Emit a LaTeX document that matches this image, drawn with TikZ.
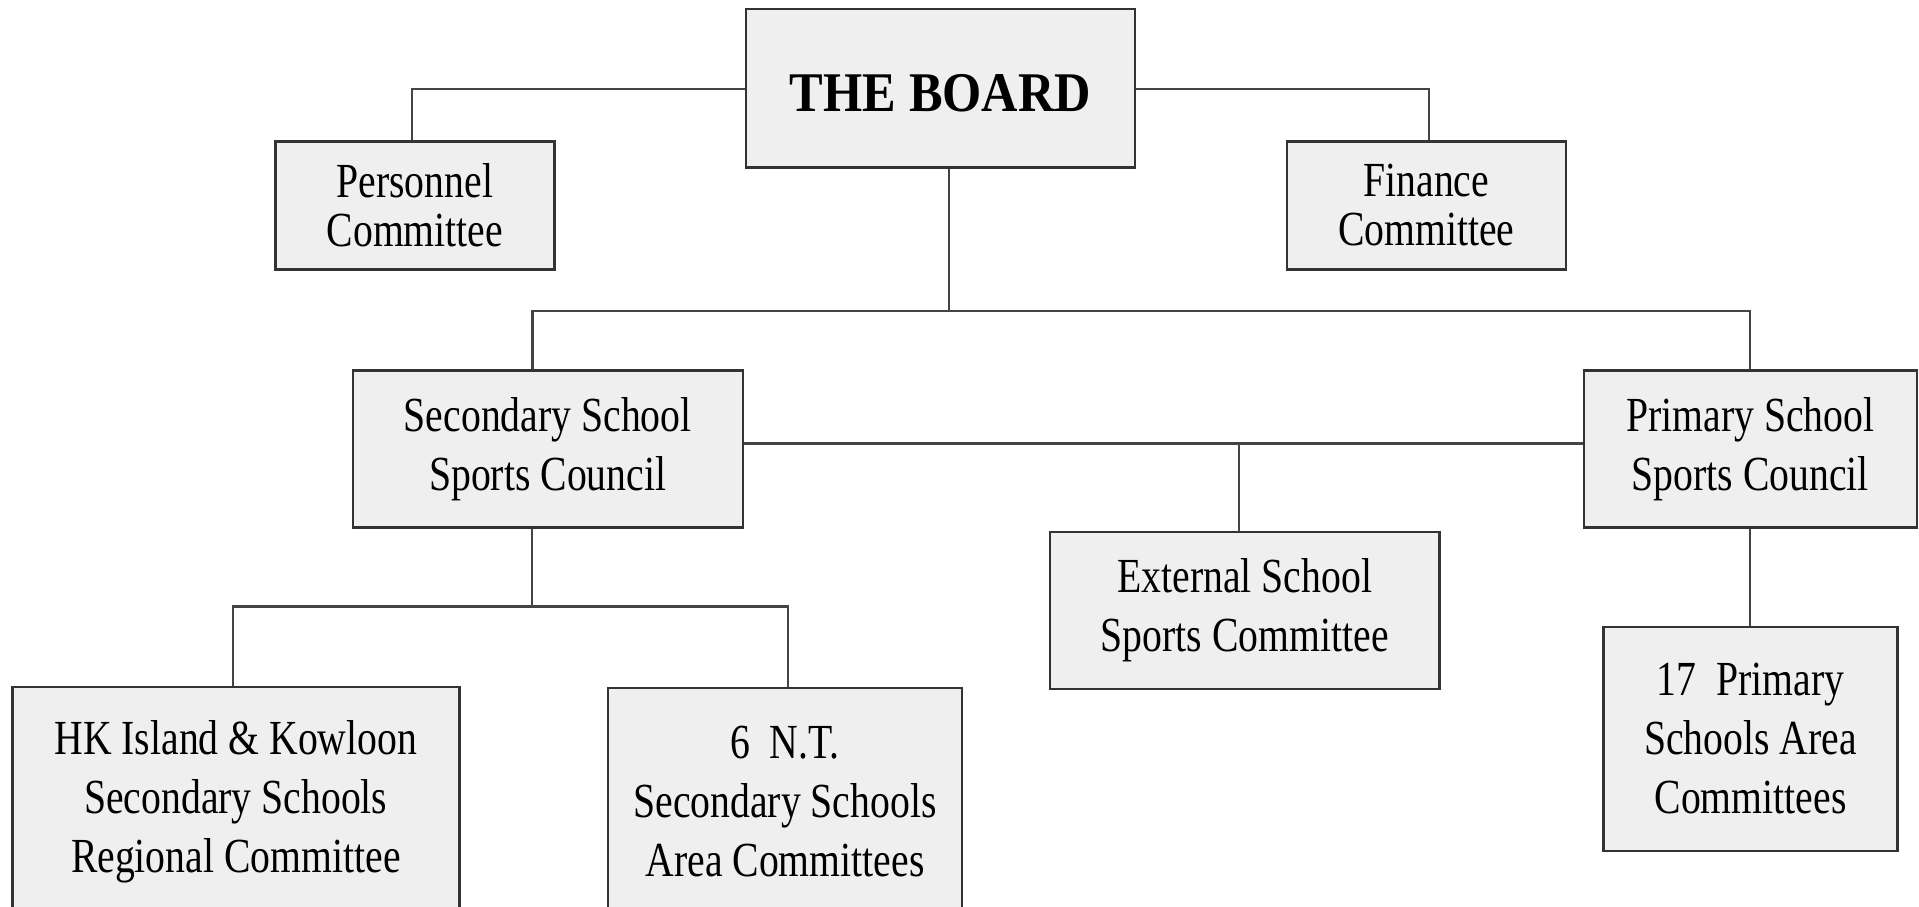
\documentclass[tikz,border=0pt]{standalone}
\usepackage{fontspec}
\setmainfont{Liberation Serif}[FakeStretch=0.81]
\newfontfamily\boardfont{Liberation Serif}[FakeStretch=0.9]
\definecolor{boxfill}{HTML}{EFEFEF}
\definecolor{edge}{HTML}{333333}
\definecolor{wire}{HTML}{444444}
\tikzset{
  orgbox/.style={draw=edge, line width=2.4pt, fill=boxfill, inner sep=0pt, align=center, text=black},
  body/.style={font=\fontsize{49}{59}\selectfont},
  tight/.style={font=\fontsize{49}{49}\selectfont},
  wireline/.style={draw=wire, line width=2.2pt},
  plain/.style={inner sep=0pt, align=center, text=black}
}
\begin{document}
\begin{tikzpicture}[x=1pt,y=-1pt]
\useasboundingbox (0,0) rectangle (1919,907);
\clip (0,0) rectangle (1919,907);
% nodes
\node[orgbox, minimum width=389pt, minimum height=158pt, font=\boardfont\bfseries\fontsize{56}{60}\selectfont] (board) at (940.5,88.3) {\raisebox{-23pt}[0pt][0pt]{THE BOARD}};
\node[orgbox, tight, minimum width=279pt, minimum height=128pt] (pers) at (414.9,205.3) {Personnel\\Committee};
\node[orgbox, tight, minimum width=279pt, minimum height=128pt] (fin) at (1426.3,205.3) {Finance\\Committee};
\node[orgbox, body, minimum width=390pt, minimum height=157pt] (sec) at (547.7,449.1) {Secondary School\\Sports Council};
\node[orgbox, body, minimum width=333pt, minimum height=157pt] (pri) at (1750.4,449.1) {Primary School\\Sports Council};
\node[orgbox, body, minimum width=389.6pt, minimum height=157pt] (ext) at (1244.7,610.3) {External School\\Sports Committee};
\node[orgbox, body, minimum width=294pt, minimum height=224pt] (p17) at (1750.5,739) {17\ \ Primary\\Schools Area\\Committees};
\node[orgbox, minimum width=447pt, minimum height=320pt, anchor=north] (hk) at (235.8,685.8) {};
\node[plain, body] (hktext) at (235.8,802) {HK Island \& Kowloon\\Secondary Schools\\Regional Committee};
\node[orgbox, minimum width=354pt, minimum height=320pt, anchor=north] (nt) at (785,686.5) {};
\node[plain, body] (nttext) at (785,802) {6\ \ N.T.\\Secondary Schools\\Area Committees};
% junctions
\coordinate (jb) at (949.2,311);
\coordinate (busL) at (532.4,311);
\coordinate (busR) at (1750,311);
\coordinate (mid) at (1239,443.5);
\coordinate (js) at (532.1,606.4);
\coordinate (jl) at (232.7,606.4);
\coordinate (jr) at (788,606.4);
% connectors
\draw[wireline] (board.west |- 0,89.3) -| (pers.north -| 412.1,0);
\draw[wireline] (board.east |- 0,89.3) -| (fin.north -| 1429,0);
\draw[wireline] (board.south -| jb) -- (jb);
\draw[wireline] (sec.north -| busL) -- (busL) -- (busR) -- (pri.north -| busR);
\draw[wireline] (sec.east |- mid) -- (pri.west |- mid);
\draw[wireline] (mid) -- (ext.north -| mid);
\draw[wireline] (sec.south -| js) -- (js);
\draw[wireline] (hk.north -| jl) -- (jl) -- (jr) -- (nt.north -| jr);
\draw[wireline] (pri.south -| busR) -- (p17.north -| busR);
\end{tikzpicture}
\end{document}
